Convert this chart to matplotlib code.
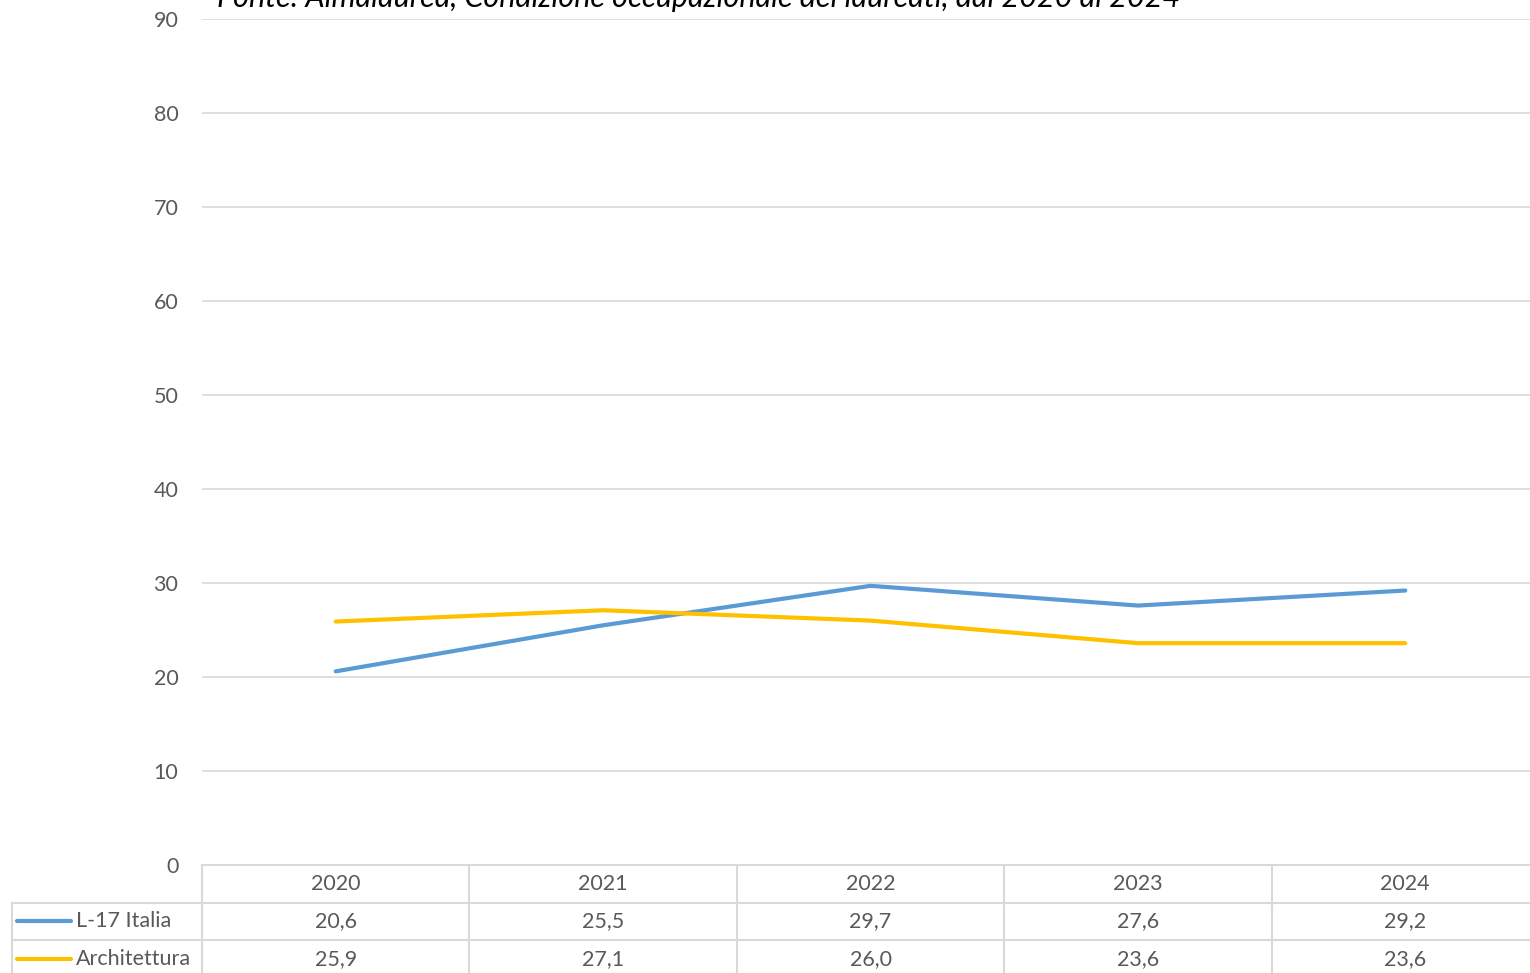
import matplotlib.pyplot as plt
from matplotlib.transforms import blended_transform_factory

years = ['2020', '2021', '2022', '2023', '2024']
l17_italia = [20.6, 25.5, 29.7, 27.6, 29.2]
architettura = [25.9, 27.1, 26.0, 23.6, 23.6]
series_names = ['L-17 Italia', 'Architettura']
series_colors = ['#5B9BD5', '#FFC000']
title = 'Fonte: Almalaurea, Condizione occupazionale dei laureati, dal 2020 al 2024'

plt.rcParams['font.family'] = ['Lato', 'DejaVu Sans']
text_col = '#595959'
grid_col = '#d9d9d9'
fs = 15.5

W, H = 1530, 973
fig = plt.figure(figsize=(W / 100, H / 100), dpi=100)
# plot area in pixels (left, top, right, bottom)
left, top, right, bottom = 202, 19, 1539, 865
ax = fig.add_axes([left / W, 1 - bottom / H, (right - left) / W, (bottom - top) / H])

x = range(len(years))
for vals, name, c in zip([l17_italia, architettura], series_names, series_colors):
    ax.plot(x, vals, color=c, lw=3, solid_capstyle='round', zorder=3)

ax.set_xlim(-0.5, len(years) - 0.5)
ax.set_ylim(0, 90)
ax.set_yticks(range(0, 91, 10))
ax.set_xticks([])
ax.grid(axis='y', color=grid_col, lw=1.2)
ax.set_axisbelow(True)
for s in ax.spines.values():
    s.set_visible(False)
ax.tick_params(axis='y', length=0, pad=17, labelsize=fs, labelcolor=text_col)

# data table below the plot
tr = blended_transform_factory(ax.transData, ax.transAxes)
row_h = 37.5 / (bottom - top)
n = len(years)
# horizontal lines
ax.plot([-0.5, n - 0.5], [0, 0], transform=tr, color=grid_col, lw=1.5, clip_on=False)
label_left = -0.5 - (left - 12) / 267.4
for r in (1, 2):
    ax.plot([label_left, n - 0.5], [-r * row_h] * 2, transform=tr, color=grid_col, lw=1.5, clip_on=False)
# vertical lines
for i in range(n):
    ax.plot([i - 0.5] * 2, [0, -3 * row_h], transform=tr, color=grid_col, lw=1.5, clip_on=False)
ax.plot([label_left] * 2, [-row_h, -3 * row_h], transform=tr, color=grid_col, lw=1.5, clip_on=False)

for i, yr in enumerate(years):
    ax.text(i, -0.5 * row_h, yr, transform=tr, ha='center', va='center', fontsize=fs, color=text_col)
for r, (vals, name, c) in enumerate(zip([l17_italia, architettura], series_names, series_colors), start=1):
    yc = -(r + 0.5) * row_h
    for i, v in enumerate(vals):
        ax.text(i, yc, f'{v:.1f}'.replace('.', ','), transform=tr, ha='center', va='center',
                fontsize=fs, color=text_col)
    ax.plot([label_left + 0.02, label_left + 0.22], [yc, yc], transform=tr, color=c, lw=3,
            solid_capstyle='round', clip_on=False)
    ax.text(label_left + 0.24, yc, name, transform=tr, ha='left', va='center', fontsize=fs, color=text_col)

fig.text(699 / W, 1 - 7 / H, title, ha='center', va='baseline', fontsize=22, style='italic', color='black')

fig.savefig('out.png', dpi=100)
